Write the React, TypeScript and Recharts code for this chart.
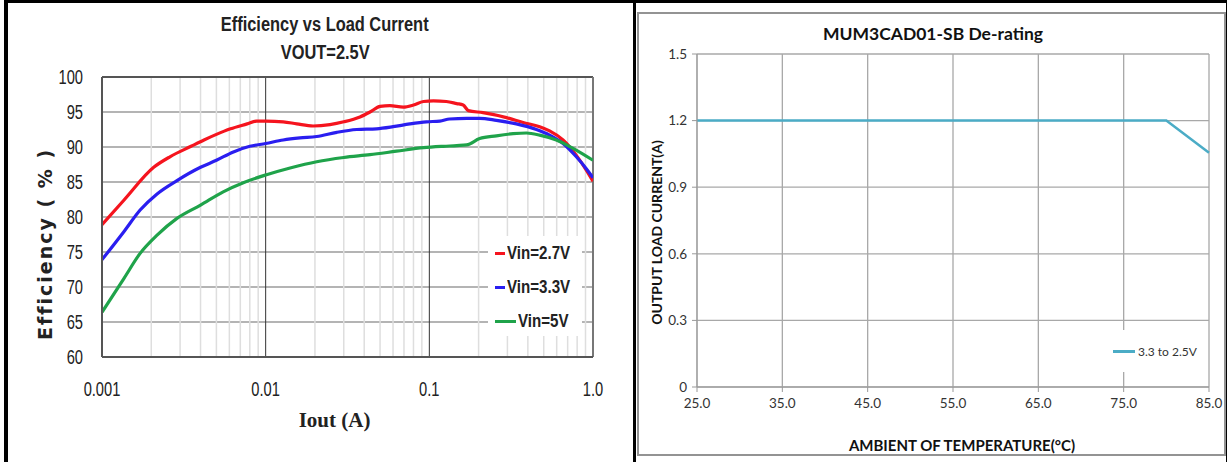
import React from "react";
import {
  CartesianGrid,
  Label,
  Legend,
  Line,
  LineChart,
  ReferenceLine,
  XAxis,
  YAxis,
} from "recharts";

// ---- Efficiency vs Load Current (VOUT = 2.5V) ----
const vin27Current = [
  0.001, 0.00136, 0.00207, 0.0026, 0.0035, 0.0042, 0.005, 0.0061, 0.0077,
  0.0088, 0.01, 0.0128, 0.0155, 0.0195, 0.0247, 0.03, 0.0377, 0.0434, 0.05,
  0.0574, 0.0693, 0.08, 0.092, 0.106, 0.127, 0.147, 0.161, 0.173, 0.213,
  0.296, 0.374, 0.472, 0.543, 0.656, 0.791, 0.91, 1.0,
];
const vin27Eff = [
  78.9, 82.4, 87.1, 88.6, 90.1, 91.0, 91.8, 92.6, 93.3, 93.7, 93.7, 93.6,
  93.3, 93.0, 93.2, 93.6, 94.3, 95.0, 95.8, 95.9, 95.7, 96.0, 96.5, 96.6,
  96.5, 96.2, 96.0, 95.2, 94.9, 94.2, 93.5, 92.9, 92.3, 91.0, 88.8, 86.7,
  85.1,
];

const vin33Current = [
  0.001, 0.00136, 0.00171, 0.00217, 0.00287, 0.004, 0.005, 0.00635, 0.008,
  0.01, 0.0128, 0.0162, 0.0205, 0.0272, 0.036, 0.0476, 0.06, 0.076, 0.096,
  0.116, 0.133, 0.169, 0.203, 0.257, 0.34, 0.451, 0.543, 0.656, 0.791, 0.91,
  1.0,
];
const vin33Eff = [
  73.9, 77.9, 81.0, 83.3, 85.2, 87.1, 88.1, 89.3, 90.1, 90.5, 91.0, 91.3,
  91.5, 92.1, 92.5, 92.6, 92.9, 93.3, 93.6, 93.7, 94.0, 94.1, 94.1, 93.8,
  93.3, 92.5, 91.7, 90.5, 88.6, 86.9, 85.6,
];

const vin5Current = [
  0.001, 0.00136, 0.00171, 0.00217, 0.00287, 0.004, 0.0055, 0.0073, 0.01,
  0.0141, 0.0205, 0.03, 0.0434, 0.063, 0.092, 0.122, 0.147, 0.169, 0.203,
  0.257, 0.325, 0.392, 0.472, 0.597, 0.755, 1.0,
];
const vin5Eff = [
  66.4, 71.2, 74.8, 77.4, 79.8, 81.7, 83.6, 84.9, 86.0, 87.0, 87.9, 88.5,
  88.9, 89.4, 89.9, 90.1, 90.2, 90.3, 91.2, 91.6, 91.9, 92.0, 91.7, 91.0,
  89.8, 88.1,
];

const currentTicks = [0.001, 0.01, 0.1, 1];
const decadeLines = [0.01, 0.1];
const minorCurrent = [
  0.002, 0.003, 0.004, 0.005, 0.006, 0.007, 0.008, 0.009, 0.02, 0.03, 0.04,
  0.05, 0.06, 0.07, 0.08, 0.09, 0.2, 0.3, 0.4, 0.5, 0.6, 0.7, 0.8, 0.9,
];
const effTicks = [60, 65, 70, 75, 80, 85, 90, 95, 100];
const effMinorTicks = [
  61, 62, 63, 64, 66, 67, 68, 69, 71, 72, 73, 74, 76, 77, 78, 79, 81, 82, 83,
  84, 86, 87, 88, 89, 91, 92, 93, 94, 96, 97, 98, 99,
];

// ---- De-rating ----
const ambientTemp = [25, 80, 85];
const loadCurrent = [1.2, 1.2, 1.055];
const tempTicks = [25, 35, 45, 55, 65, 75, 85];
const loadTicks = [0, 0.3, 0.6, 0.9, 1.2, 1.5];

const zip = (xs: number[], ys: number[]) =>
  xs.map((x, i) => ({ x, y: ys[i] }));

const vin27Data = zip(vin27Current, vin27Eff);
const vin33Data = zip(vin33Current, vin33Eff);
const vin5Data = zip(vin5Current, vin5Eff);
const derateData = zip(ambientTemp, loadCurrent);

const arial = '"Liberation Sans", Arial, sans-serif';
const calibri = "Lato, sans-serif";

// the left chart uses a very condensed face, squeeze Liberation Sans to match
const NarrowTick = (props: any) => {
  const { x, y, payload, textAnchor, vertical, format } = props;
  const label = format ? format(payload.value) : String(payload.value);
  return (
    <text
      transform={`translate(${x},${y}) scale(0.7,1)`}
      textAnchor={textAnchor}
      dy={vertical ? "0.35em" : "0.75em"}
      fill="#222"
      fontSize={21}
      fontFamily={arial}
    >
      {label}
    </text>
  );
};

const AxisTitle = (props: any) => {
  const { viewBox, value, dx = 0, dy = 0, rotate, style } = props;
  const cx = viewBox.x + viewBox.width / 2 + dx;
  const cy = viewBox.y + viewBox.height / 2 + dy;
  return (
    <text
      x={cx}
      y={cy}
      textAnchor="middle"
      dominantBaseline="central"
      transform={rotate ? `rotate(-90 ${cx} ${cy})` : undefined}
      style={style}
    >
      {value}
    </text>
  );
};

const EffLegend = ({ payload }: any) => (
  <div style={{ background: "#fff", width: "100%", height: "100%" }}>
    {(payload || []).map((p: any) => (
      <div
        key={p.value}
        style={{ display: "flex", alignItems: "center", height: 34, paddingLeft: 7 }}
      >
        <span style={{ width: 21, height: 3, background: p.color, marginRight: 2 }} />
        <span
          style={{
            display: "inline-block",
            transform: "scaleX(0.84)",
            transformOrigin: "left center",
            fontFamily: arial,
            fontWeight: 700,
            fontSize: 18,
            color: "#222",
            whiteSpace: "nowrap",
          }}
        >
          {p.value}
        </span>
      </div>
    ))}
  </div>
);

const DerateLegend = ({ payload }: any) => (
  <div style={{ background: "#fff", width: "100%", height: "100%" }}>
    {(payload || []).map((p: any) => (
      <div
        key={p.value}
        style={{ display: "flex", alignItems: "center", height: 42, paddingLeft: 13 }}
      >
        <span style={{ width: 22, height: 3, background: p.color, marginRight: 3 }} />
        <span style={{ fontFamily: calibri, fontSize: 12, color: "#333" }}>{p.value}</span>
      </div>
    ))}
  </div>
);

const EfficiencyChart = () => (
  <LineChart
    width={620}
    height={462}
    margin={{ top: 77, right: 27, bottom: 0, left: 0 }}
  >
    <CartesianGrid vertical={false} stroke="#b4b4b4" strokeWidth={2} />
    {minorCurrent.map((v) => (
      <ReferenceLine key={v} x={v} stroke="#dedede" strokeWidth={1.5} />
    ))}
    {decadeLines.map((v) => (
      <ReferenceLine key={v} x={v} stroke="#333" strokeWidth={1} />
    ))}
    <ReferenceLine y={100} stroke="#555" strokeWidth={2} />
    <ReferenceLine x={1} stroke="#777" strokeWidth={2} />
    <XAxis
      dataKey="x"
      type="number"
      scale="log"
      domain={[0.001, 1]}
      ticks={currentTicks}
      allowDataOverflow
      height={105}
      tickSize={0}
      tickMargin={23}
      axisLine={{ stroke: "#555", strokeWidth: 2 }}
      tick={<NarrowTick format={(v: number) => (v === 1 ? "1.0" : String(v))} />}
    >
      <Label
        content={
          <AxisTitle
            value="Iout (A)"
            dx={-13}
            dy={10}
            style={{
              fontFamily: '"Liberation Serif", serif',
              fontWeight: 700,
              fontSize: 21,
              fill: "#222",
            }}
          />
        }
      />
    </XAxis>
    <XAxis
      xAxisId="minor"
      dataKey="x"
      type="number"
      scale="log"
      domain={[0.001, 1]}
      ticks={minorCurrent}
      allowDataOverflow
      mirror
      tick={false}
      axisLine={false}
      tickSize={4}
      tickLine={{ stroke: "#666" }}
    />
    <YAxis
      type="number"
      domain={[60, 100]}
      ticks={effTicks}
      width={102}
      tickSize={0}
      tickMargin={19}
      axisLine={{ stroke: "#555", strokeWidth: 2 }}
      tick={<NarrowTick vertical />}
    >
      <Label
        content={
          <AxisTitle
            value="Efficiency ( % )"
            rotate
            dx={-6}
            dy={27}
            style={{
              fontFamily: '"DejaVu Sans", sans-serif',
              fontWeight: 700,
              fontSize: 19,
              letterSpacing: 2,
              fill: "#222",
            }}
          />
        }
      />
    </YAxis>
    <YAxis
      yAxisId="minor"
      type="number"
      domain={[60, 100]}
      ticks={effMinorTicks}
      mirror
      tick={false}
      axisLine={false}
      tickSize={4}
      tickLine={{ stroke: "#777" }}
    />
    <Legend
      layout="vertical"
      align="center"
      verticalAlign="middle"
      content={<EffLegend />}
      wrapperStyle={{ left: 488, top: 236, width: 94, height: 100 }}
    />
    <Line
      data={vin27Data}
      dataKey="y"
      name="Vin=2.7V"
      type="monotone"
      stroke="#f5141e"
      strokeWidth={3.2}
      dot={false}
      isAnimationActive={false}
    />
    <Line
      data={vin33Data}
      dataKey="y"
      name="Vin=3.3V"
      type="monotone"
      stroke="#2a1ef0"
      strokeWidth={3.2}
      dot={false}
      isAnimationActive={false}
    />
    <Line
      data={vin5Data}
      dataKey="y"
      name="Vin=5V"
      type="monotone"
      stroke="#1fa34a"
      strokeWidth={3.2}
      dot={false}
      isAnimationActive={false}
    />
  </LineChart>
);

const DeratingChart = () => (
  <LineChart
    width={589}
    height={443}
    data={derateData}
    margin={{ top: 41, right: 17, bottom: 0, left: 0 }}
  >
    <CartesianGrid stroke="#a8a8a8" strokeWidth={1.3} />
    <XAxis
      dataKey="x"
      type="number"
      domain={[25, 85]}
      ticks={tempTicks}
      height={69}
      tickSize={5}
      tickMargin={6}
      axisLine={{ stroke: "#999" }}
      tickLine={{ stroke: "#999" }}
      tick={{ fill: "#333", fontSize: 13.5, fontFamily: calibri }}
      tickFormatter={(v: number) => v.toFixed(1)}
    >
      <Label
        content={
          <AxisTitle
            value="AMBIENT OF TEMPERATURE(°C)"
            dx={9}
            dy={23}
            style={{ fontFamily: calibri, fontWeight: 700, fontSize: 15, fill: "#111" }}
          />
        }
      />
    </XAxis>
    <YAxis
      type="number"
      domain={[0, 1.5]}
      ticks={loadTicks}
      width={60}
      tickSize={5}
      tickMargin={5}
      axisLine={{ stroke: "#999" }}
      tickLine={{ stroke: "#999" }}
      tick={{ fill: "#333", fontSize: 13.5, fontFamily: calibri }}
      tickFormatter={(v: number) => (v === 0 ? "0" : v.toFixed(1))}
    >
      <Label
        content={
          <AxisTitle
            value="OUTPUT LOAD CURRENT(A)"
            rotate
            dx={-11}
            dy={12}
            style={{ fontFamily: calibri, fontWeight: 700, fontSize: 14, fill: "#111" }}
          />
        }
      />
    </YAxis>
    <Legend
      layout="vertical"
      align="center"
      verticalAlign="middle"
      content={<DerateLegend />}
      wrapperStyle={{ left: 463, top: 317, width: 105, height: 42 }}
    />
    <Line
      dataKey="y"
      name="3.3 to 2.5V"
      type="linear"
      stroke="#4bacc6"
      strokeWidth={2.5}
      dot={false}
      isAnimationActive={false}
    />
  </LineChart>
);

const titleLine = {
  display: "inline-block",
  transform: "scaleX(0.82)",
  whiteSpace: "nowrap" as const,
};

export default function App() {
  return (
    <div
      style={{
        position: "absolute",
        left: 0,
        top: 0,
        width: 1227,
        height: 462,
        background: "#fff",
        overflow: "hidden",
      }}
    >
      <div style={{ position: "absolute", left: 0, top: 0 }}>
        <EfficiencyChart />
      </div>
      <div
        style={{
          position: "absolute",
          left: 0,
          top: 10,
          width: 650,
          textAlign: "center",
          fontFamily: arial,
          fontWeight: 700,
          fontSize: 20,
          lineHeight: "28px",
          color: "#222",
        }}
      >
        <div>
          <span style={titleLine}>Efficiency vs Load Current</span>
        </div>
        <div>
          <span style={titleLine}>VOUT=2.5V</span>
        </div>
      </div>

      <div
        style={{
          position: "absolute",
          left: 637,
          top: 12,
          width: 589,
          height: 444,
          boxSizing: "border-box",
          border: "2px solid #939393",
        }}
      />
      <div style={{ position: "absolute", left: 637, top: 13 }}>
        <DeratingChart />
      </div>
      <div
        style={{
          position: "absolute",
          left: 637,
          top: 23,
          width: 592,
          textAlign: "center",
          fontFamily: calibri,
          fontWeight: 700,
          fontSize: 17.5,
          color: "#111",
        }}
      >
        MUM3CAD01-SB De-rating
      </div>

      {/* black frame lines */}
      <div style={{ position: "absolute", left: 4, top: 0, width: 1223, height: 3, background: "#000" }} />
      <div style={{ position: "absolute", left: 4, top: 0, width: 4, height: 462, background: "#000" }} />
      <div style={{ position: "absolute", left: 633, top: 0, width: 2.5, height: 462, background: "#000" }} />
      <div style={{ position: "absolute", left: 1226, top: 0, width: 1, height: 462, background: "#000" }} />
    </div>
  );
}
